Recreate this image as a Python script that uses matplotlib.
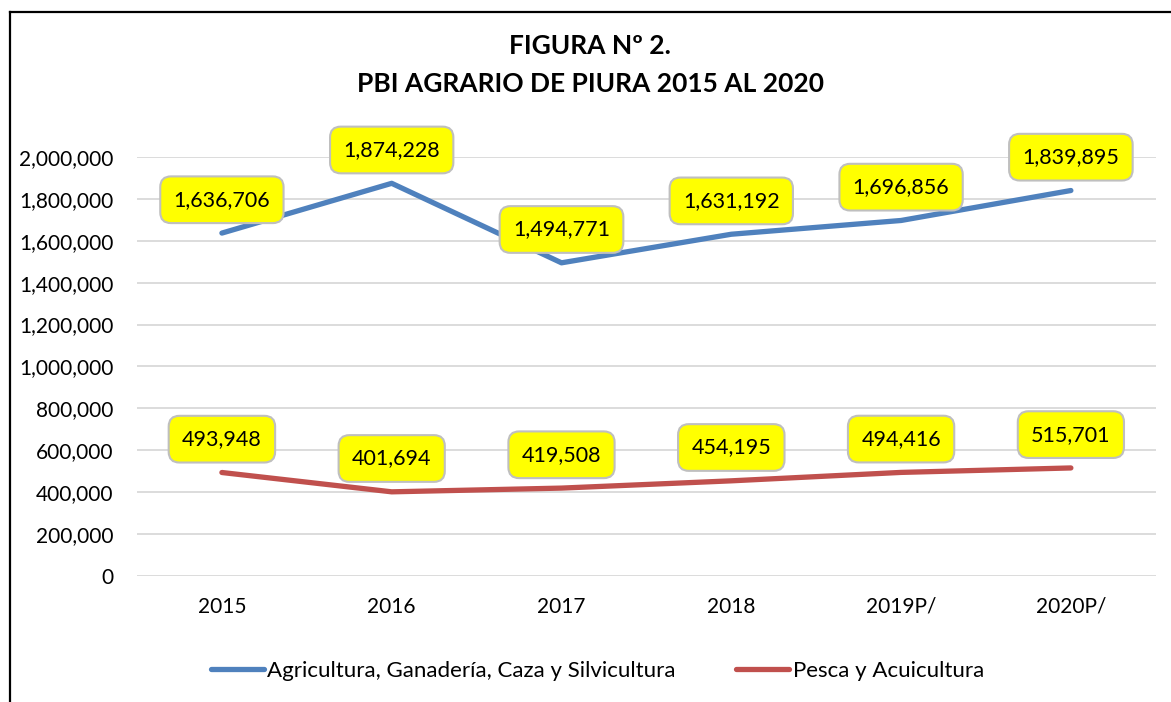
import matplotlib.pyplot as plt
from matplotlib.lines import Line2D
from matplotlib.ticker import FuncFormatter

years = ['2015', '2016', '2017', '2018', '2019P/', '2020P/']
agricultura = [1636706, 1874228, 1494771, 1631192, 1696856, 1839895]
pesca = [493948, 401694, 419508, 454195, 494416, 515701]

plt.rcParams['font.family'] = ['Lato', 'DejaVu Sans']

fig = plt.figure(figsize=(11.71, 7.02), dpi=100)
ax = fig.add_axes([0.117, 0.1795, 0.87, 0.5969])

x = list(range(len(years)))
ax.plot(x, agricultura, color='#4F81BD', linewidth=3.8, solid_capstyle='round',
        label='Agricultura, Ganadería, Caza y Silvicultura', zorder=3)
ax.plot(x, pesca, color='#C0504D', linewidth=3.8, solid_capstyle='round',
        label='Pesca y Acuicultura', zorder=3)

box = dict(boxstyle='round,pad=0.62,rounding_size=0.5', facecolor='#FFFF00',
           edgecolor='#BFBFBF', linewidth=1.5)
for serie in (agricultura, pesca):
    for xi, v in zip(x, serie):
        ax.annotate(f'{v:,}', (xi, v), xytext=(0, 24), textcoords='offset points',
                    ha='center', va='center', fontsize=15.5, bbox=box, zorder=5)

ax.set_xlim(-0.5, len(years) - 0.5)
ax.set_ylim(0, 2000000)
ax.set_yticks(range(0, 2000001, 200000))
ax.yaxis.set_major_formatter(FuncFormatter(lambda v, p: f'{int(v):,}'))
ax.set_xticks(x)
ax.set_xticklabels(years)
ax.tick_params(axis='both', length=0, labelsize=15)
ax.tick_params(axis='y', pad=17)
ax.tick_params(axis='x', pad=15)
ax.grid(axis='y', color='#D9D9D9', linewidth=1.3)
ax.set_axisbelow(True)
for s in ax.spines.values():
    s.set_visible(False)

fig.text(0.504, 0.935, 'FIGURA Nº 2.', ha='center', va='center', fontsize=19, fontweight='bold')
fig.text(0.504, 0.881, 'PBI AGRARIO DE PIURA 2015 AL 2020', ha='center', va='center',
         fontsize=19, fontweight='bold')

fig.legend(loc='center', bbox_to_anchor=(0.51, 0.044), ncol=2, frameon=False,
           fontsize=16, handlelength=2.4, handletextpad=0.15, columnspacing=2.7)

fig.add_artist(Line2D([0.0085, 0.0085], [0, 0.983], color='black', linewidth=1.6))
fig.add_artist(Line2D([0.0085, 1.0], [0.983, 0.983], color='black', linewidth=1.6))

fig.savefig('out.png', dpi=100)
